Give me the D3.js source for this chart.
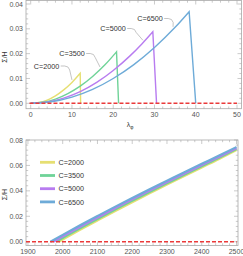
<!DOCTYPE html>
<html>
<head>
<meta charset="utf-8">
<script src="https://cdn.jsdelivr.net/npm/d3@7"></script>
<style>
  body { margin: 0; background: #fff; }
  svg { display: block; font-family: "Liberation Sans", Arial, sans-serif; }
  .tick-label { font-size: 7px; fill: #555; }
</style>
</head>
<body>
<svg width="243" height="256"></svg>
<script>
// ---- data ----
var labels = ["C=2000", "C=3500", "C=5000", "C=6500"];
var colors = ["#e6df72", "#6fd398", "#b87cf0", "#6eabd8"];

// top panel: lambda_phi vs Sigma/H (rise, then drop to zero)
var top_x_2000 = [0, 2, 4, 6, 8, 10, 12];
var top_y_2000 = [0, 0.0003, 0.0013, 0.003, 0.0054, 0.0084, 0.0121];
var top_x_3500 = [0, 3, 6, 9, 12, 15, 18, 20.8];
var top_y_3500 = [0, 0.0004, 0.0017, 0.0039, 0.0069, 0.0108, 0.0155, 0.0207];
var top_x_5000 = [0, 4, 8, 12, 16, 20, 24, 27, 29.6];
var top_y_5000 = [0, 0.0005, 0.0021, 0.0047, 0.0084, 0.0132, 0.019, 0.024, 0.0288];
var top_x_6500 = [0, 5, 10, 15, 20, 25, 30, 35, 38.4];
var top_y_6500 = [0, 0.0006, 0.0025, 0.0056, 0.010, 0.0156, 0.0225, 0.0306, 0.0369];
var top_drop = [12.1, 21.3, 30.5, 40.0];

// bottom panel: year vs Sigma/H
var bot_x_2000 = [1989, 2000, 2050, 2100, 2150, 2200, 2250, 2300, 2350, 2400, 2450, 2500];
var bot_y_2000 = [0, 0.0017, 0.0093, 0.0167, 0.024, 0.0311, 0.038, 0.0449, 0.0517, 0.0584, 0.0651, 0.0721];
var bot_x_3500 = [1981, 2000, 2050, 2100, 2150, 2200, 2250, 2300, 2350, 2400, 2450, 2500];
var bot_y_3500 = [0, 0.0029, 0.0105, 0.0179, 0.0252, 0.0322, 0.0391, 0.0459, 0.0527, 0.0594, 0.066, 0.0729];
var bot_x_5000 = [1973, 2000, 2050, 2100, 2150, 2200, 2250, 2300, 2350, 2400, 2450, 2500];
var bot_y_5000 = [0, 0.0042, 0.0117, 0.019, 0.0263, 0.0333, 0.0402, 0.047, 0.0537, 0.0603, 0.0669, 0.0737];
var bot_x_6500 = [1965, 2000, 2050, 2100, 2150, 2200, 2250, 2300, 2350, 2400, 2450, 2500];
var bot_y_6500 = [0, 0.0054, 0.0129, 0.0202, 0.0274, 0.0344, 0.0413, 0.048, 0.0547, 0.0613, 0.0678, 0.0745];

var top_xticks = [0, 10, 20, 30, 40, 50];
var top_yticks = [0, 0.01, 0.02, 0.03, 0.04];
var bot_xticks = [1900, 2000, 2100, 2200, 2300, 2400, 2500];
var bot_yticks = [0, 0.02, 0.04, 0.06, 0.08];

var svg = d3.select("svg");

var zip = function(xs, ys) { return xs.map(function(d, i) { return [d, ys[i]]; }); };

// frame with mathematica style ticks on all four sides
var frame = function(g, box, x, y, xt, yt, xminor, yminor, xfmt, yfmt) {
  g.append("rect")
    .attr("x", box.l).attr("y", box.t)
    .attr("width", box.r - box.l).attr("height", box.b - box.t)
    .attr("fill", "none").attr("stroke", "#a8a8a8").attr("stroke-width", 0.8);

  var xs = d3.range(xt[0], xt[xt.length - 1] + xminor / 2, xminor).filter(function(d) {
    return x(d) >= box.l && x(d) <= box.r;
  });
  var ys = d3.range(yt[0], yt[yt.length - 1] + yminor / 2, yminor).filter(function(d) {
    return y(d) >= box.t - 0.5 && y(d) <= box.b;
  });
  var isMajor = function(v, list) { return list.some(function(m) { return Math.abs(m - v) < 1e-9; }); };

  xs.forEach(function(v) {
    var len = isMajor(v, xt) ? 4 : 2.2;
    g.append("line").attr("x1", x(v)).attr("x2", x(v)).attr("y1", box.b).attr("y2", box.b - len)
      .attr("stroke", "#a8a8a8").attr("stroke-width", 0.6);
    g.append("line").attr("x1", x(v)).attr("x2", x(v)).attr("y1", box.t).attr("y2", box.t + len)
      .attr("stroke", "#a8a8a8").attr("stroke-width", 0.6);
  });
  ys.forEach(function(v) {
    var len = isMajor(v, yt) ? 4 : 2.2;
    g.append("line").attr("x1", box.l).attr("x2", box.l + len).attr("y1", y(v)).attr("y2", y(v))
      .attr("stroke", "#a8a8a8").attr("stroke-width", 0.6);
    g.append("line").attr("x1", box.r).attr("x2", box.r - len).attr("y1", y(v)).attr("y2", y(v))
      .attr("stroke", "#a8a8a8").attr("stroke-width", 0.6);
  });

  g.selectAll(null).data(xt.filter(function(d) { return x(d) >= box.l - 3; })).enter().append("text")
    .attr("class", "tick-label")
    .attr("x", function(d) { return x(d); })
    .attr("y", box.b + 8.5)
    .attr("text-anchor", "middle")
    .text(xfmt);
  g.selectAll(null).data(yt).enter().append("text")
    .attr("class", "tick-label")
    .attr("x", box.l - 3)
    .attr("y", function(d) { return y(d) + 2.5; })
    .attr("text-anchor", "end")
    .text(yfmt);
};

var yLabel = function(cy) {
  svg.append("text")
    .attr("transform", "translate(7," + cy + ") rotate(-90)")
    .attr("text-anchor", "middle")
    .attr("font-size", 7).attr("fill", "#333")
    .text("Σ/H");
};

// ---------- top panel ----------
var topBox = { l: 26, r: 241.5, t: 0.5, b: 108.7 };
var x1 = d3.scaleLinear().domain([0, 50]).range([30.7, 237]);
var y1 = d3.scaleLinear().domain([0, 0.04]).range([103.3, 4]);
var gTop = svg.append("g");
frame(gTop, topBox, x1, y1, top_xticks, top_yticks, 2, 0.002,
  function(d) { return d; }, d3.format(".2f"));

var topSeries = [zip(top_x_2000, top_y_2000), zip(top_x_3500, top_y_3500),
                 zip(top_x_5000, top_y_5000), zip(top_x_6500, top_y_6500)];
var line1 = d3.line().x(function(d) { return x1(d[0]); }).y(function(d) { return y1(d[1]); })
  .curve(d3.curveMonotoneX);

topSeries.forEach(function(s, i) {
  gTop.append("path")
    .attr("d", line1(s) + "L" + x1(top_drop[i]) + "," + y1(0))
    .attr("fill", "none").attr("stroke", colors[i]).attr("stroke-width", 1.4);
});

gTop.append("line")
  .attr("x1", x1(-0.3)).attr("x2", x1(50))
  .attr("y1", y1(0)).attr("y2", y1(0))
  .attr("stroke", "#ea3a3a").attr("stroke-width", 1.4).attr("stroke-dasharray", "4,2");

// callout labels with leader lines
var calloutText = [[46.5, 68.5], [72, 56], [113, 31], [150, 21]];
var calloutAt = [10, 16.8, 27.2, 34.5];
topSeries.forEach(function(s, i) {
  var t = gTop.append("text")
    .attr("x", calloutText[i][0]).attr("y", calloutText[i][1])
    .attr("text-anchor", "middle").attr("font-size", 7.2).attr("fill", "#333")
    .text(labels[i]);
  var w = t.node().getComputedTextLength();
  var sx = calloutText[i][0] + w / 2 + 1.5, sy = calloutText[i][1] - 2.5;
  var yy = d3.scaleLinear().domain(s.map(function(d) { return d[0]; })).range(s.map(function(d) { return d[1]; }));
  var tx = x1(calloutAt[i]), ty = y1(yy(calloutAt[i])) - 2.5;
  gTop.append("path")
    .attr("d", "M" + sx + "," + sy + "L" + (sx + 4) + "," + sy +
      "Q" + (sx + 8) + "," + sy + " " + (sx + 9) + "," + (sy + 4) + "L" + tx + "," + ty)
    .attr("fill", "none").attr("stroke", "#aaa").attr("stroke-width", 0.7);
});

var lam = svg.append("text")
  .attr("x", 130).attr("y", 127)
  .attr("text-anchor", "middle").attr("font-size", 7).attr("fill", "#333");
lam.append("tspan").text("λ");
lam.append("tspan").attr("dy", 1.8).attr("font-size", 5).text("φ");
yLabel(57);

// ---------- bottom panel ----------
var botBox = { l: 26, r: 238, t: 140, b: 245.5 };
var x2 = d3.scaleLinear().domain([2000, 2500]).range([62.7, 236.5]);
var y2 = d3.scaleLinear().domain([0, 0.08]).range([241.7, 140]);
var gBot = svg.append("g");
frame(gBot, botBox, x2, y2, bot_xticks, bot_yticks, 20, 0.004,
  function(d) { return d; }, d3.format(".2f"));

var botSeries = [zip(bot_x_2000, bot_y_2000), zip(bot_x_3500, bot_y_3500),
                 zip(bot_x_5000, bot_y_5000), zip(bot_x_6500, bot_y_6500)];
var line2 = d3.line().x(function(d) { return x2(d[0]); }).y(function(d) { return y2(d[1]); })
  .curve(d3.curveMonotoneX);

botSeries.forEach(function(s, i) {
  gBot.append("path")
    .attr("d", line2(s))
    .attr("fill", "none").attr("stroke", colors[i]).attr("stroke-width", 2.2);
});

gBot.append("line")
  .attr("x1", botBox.l).attr("x2", x2(2500))
  .attr("y1", y2(0)).attr("y2", y2(0))
  .attr("stroke", "#ea3a3a").attr("stroke-width", 1.4).attr("stroke-dasharray", "4,2");

var legend = gBot.selectAll(".leg").data(labels).enter().append("g")
  .attr("transform", function(d, i) { return "translate(40," + (162.3 + i * 13.2) + ")"; });
legend.append("line")
  .attr("x1", 0).attr("x2", 15).attr("y1", 0).attr("y2", 0)
  .attr("stroke", function(d, i) { return colors[i]; }).attr("stroke-width", 2.8);
legend.append("text")
  .attr("x", 18.5).attr("y", 2.6)
  .attr("font-size", 7.2).attr("fill", "#333")
  .text(function(d) { return d; });

yLabel(194.5);
</script>
</body>
</html>
